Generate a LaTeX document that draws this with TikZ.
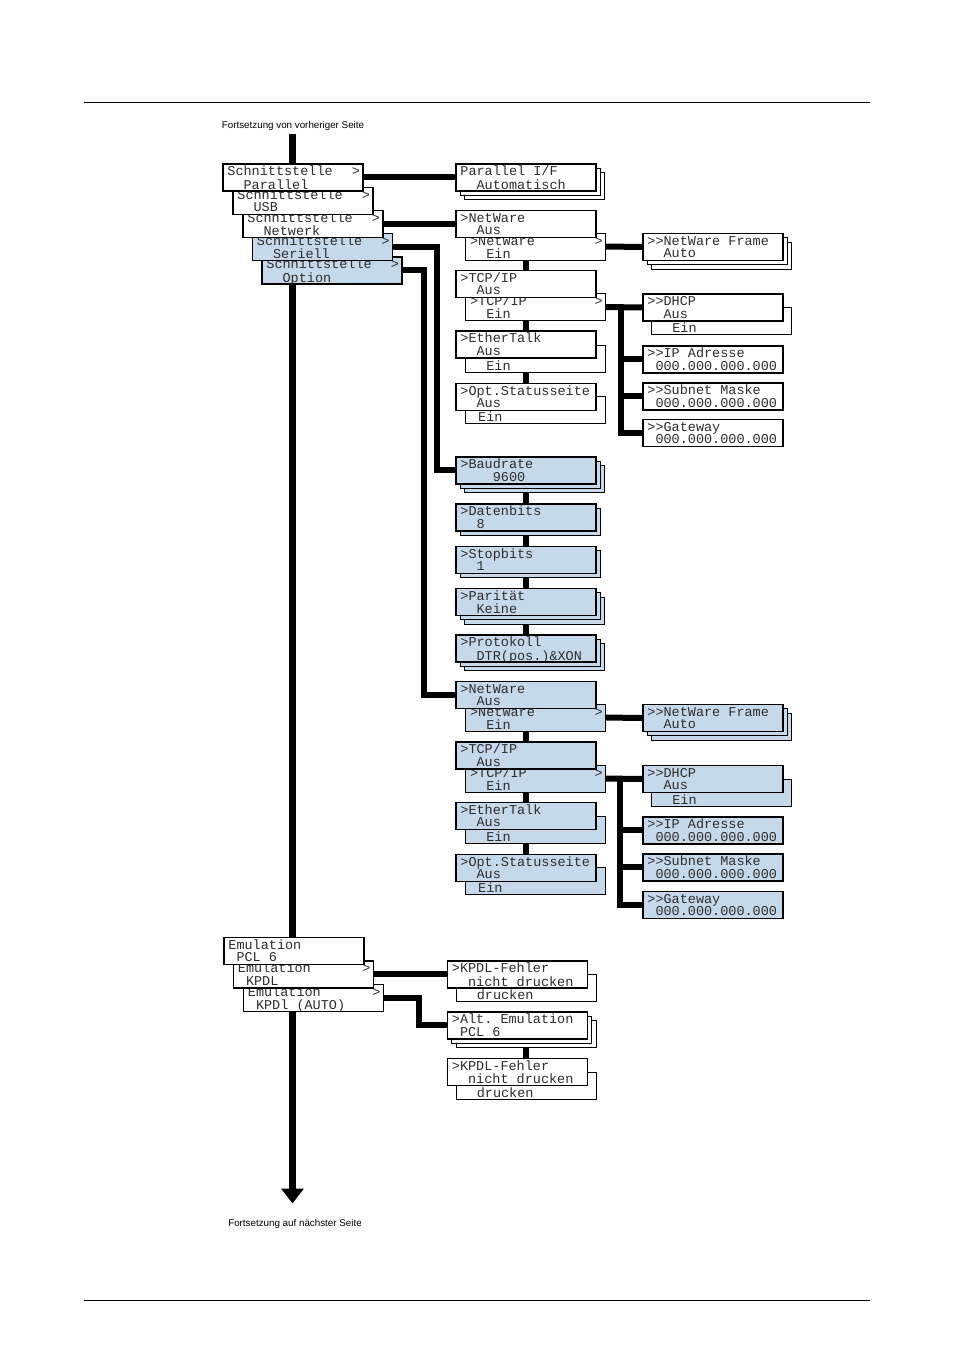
\documentclass[tikz,border=0pt]{standalone}
\usepackage{fontspec}
\newfontfamily\lcdfont{Liberation Mono}
\newfontfamily\capfont{Liberation Sans}
\definecolor{lcdblue}{RGB}{198, 217, 235}
\definecolor{ink}{RGB}{45, 45, 45}
\usetikzlibrary{arrows.meta, positioning, calc, shadows, backgrounds}

% two text lines of a display box, fixed baselines
\newcommand{\lcdtext}[2]{\vbox to 27pt{\offinterlineskip
  \hbox to 140pt{\hskip4.5pt\rule[-3.5pt]{0pt}{15.5pt}#1\hskip3pt plus 1fil}%
  \hbox to 140pt{\hskip4.5pt\rule[-3.5pt]{0pt}{11.7pt}#2\hskip3pt plus 1fil}\vss}}

\tikzset{
    lcd/.style={
        rectangle, draw=black, fill=#1, line width=1.8pt,
        minimum width=140pt, minimum height=27pt, inner sep=0pt,
        anchor=north west, text=ink,
        font=\lcdfont\fontsize{13.5}{12}\selectfont
    },
    lcd/.default=white,
    lcdsub/.style={lcd=#1, line width=1.2pt},
    lcdsub/.default=white,
    one copy/.style={general shadow={shadow xshift=4.5pt, shadow yshift=-4.5pt, fill=#1, draw=black, line width=1pt}},
    one copy/.default=white,
    two copies/.style={general shadow={shadow xshift=9pt, shadow yshift=-9pt, fill=#1, draw=black, line width=1pt}, one copy=#1},
    two copies/.default=white,
    link/.style={line width=6pt, draw=black},
    trunk/.style={line width=6.5pt, -{Triangle[length=15pt, width=22pt]}},
    cont/.style={font=\capfont\fontsize{9.8}{11}\selectfont, text=black, inner sep=1pt}
}

\begin{document}
\begin{tikzpicture}[x=1pt, y=-1pt]
    \useasboundingbox (0,0) rectangle (972,1360);

    % Page rules
    \draw[line width=0.8pt] (84,102) -- (870,102);
    \draw[line width=0.8pt] (84,1300) -- (870,1300);

    \node[cont, anchor=base] (prev) at (293,128.5) {Fortsetzung von vorheriger Seite};
    \node[cont, anchor=base] (next) at (295,1226.5) {Fortsetzung auf nächster Seite};
    \coordinate (trunkTop) at (292.5,134);
    \coordinate (trunkEnd) at (292.5,1203.5);

    % Interface menu
    \node[lcd=lcdblue] (sOpt) at (261,256) {\lcdtext{Schnittstelle\hfill>}{~~Option}};
    \node[lcd=lcdblue] (sSer) at (251.5,232.5) {\lcdtext{Schnittstelle\hfill>}{~~Seriell}};
    \node[lcd] (sNet) at (242,209.5) {\lcdtext{Schnittstelle\hfill>}{~~Netwerk}};
    \node[lcd] (sUsb) at (232,186.5) {\lcdtext{Schnittstelle\hfill>}{~~USB}};
    \node[lcd] (sPar) at (222,163) {\lcdtext{Schnittstelle\hfill>}{~~Parallel}};

    \node[lcd, two copies] (pIF) at (455,163) {\lcdtext{Parallel~I/F}{~~Automatisch}};

    % Network card
    \node[lcdsub] (nwEin) at (465,232.5) {\lcdtext{>NetWare\hfill>}{~~Ein}};
    \node[lcd] (nwAus) at (455,209.5) {\lcdtext{>NetWare}{~~Aus}};
    \node[lcd, two copies] (nwFrame) at (642,232.5) {\lcdtext{>>NetWare~Frame}{~~Auto}};
    \node[lcdsub] (tcpEin) at (465,293) {\lcdtext{>TCP/IP\hfill>}{~~Ein}};
    \node[lcd] (tcpAus) at (455,269.5) {\lcdtext{>TCP/IP}{~~Aus}};
    \node[lcdsub] (dhcpEin) at (651,307) {\lcdtext{}{~~Ein}};
    \node[lcd] (dhcp) at (642,293) {\lcdtext{>>DHCP}{~~Aus}};
    \node[lcd] (ip) at (642,345) {\lcdtext{>>IP~Adresse}{~000.000.000.000}};
    \node[lcd] (subnet) at (642,382) {\lcdtext{>>Subnet~Maske}{~000.000.000.000}};
    \node[lcd] (gateway) at (642,418.5) {\lcdtext{>>Gateway}{~000.000.000.000}};
    \node[lcdsub] (etEin) at (465,344.5) {\lcdtext{}{~~Ein}};
    \node[lcd] (etAus) at (455,330) {\lcdtext{>EtherTalk}{~~Aus}};
    \node[lcdsub] (optEin) at (465,396) {\lcdtext{}{~Ein}};
    \node[lcd] (optAus) at (455,382.5) {\lcdtext{>Opt.Statusseite}{~~Aus}};

    % Serial
    \node[lcd=lcdblue, two copies=lcdblue] (baud) at (455,456) {\lcdtext{>Baudrate}{~~~~9600}};
    \node[lcd=lcdblue, one copy=lcdblue] (daten) at (455,503) {\lcdtext{>Datenbits}{~~8}};
    \node[lcd=lcdblue, one copy=lcdblue] (stop) at (455,545.5) {\lcdtext{>Stopbits}{~~1}};
    \node[lcd=lcdblue, two copies=lcdblue] (parity) at (455,587.5) {\lcdtext{>Parität}{~~Keine}};
    \node[lcd=lcdblue, two copies=lcdblue] (proto) at (455,634) {\lcdtext{>Protokoll}{~~DTR(pos.)\&XON}};

    % Option slot
    \node[lcdsub=lcdblue] (nwEin2) at (465,703.5) {\lcdtext{>NetWare\hfill>}{~~Ein}};
    \node[lcd=lcdblue] (nwAus2) at (455,680.5) {\lcdtext{>NetWare}{~~Aus}};
    \node[lcd=lcdblue, two copies=lcdblue] (nwFrame2) at (642,703.5) {\lcdtext{>>NetWare~Frame}{~~Auto}};
    \node[lcdsub=lcdblue] (tcpEin2) at (465,764.5) {\lcdtext{>TCP/IP\hfill>}{~~Ein}};
    \node[lcd=lcdblue] (tcpAus2) at (455,741) {\lcdtext{>TCP/IP}{~~Aus}};
    \node[lcdsub=lcdblue] (dhcpEin2) at (651,778.5) {\lcdtext{}{~~Ein}};
    \node[lcd=lcdblue] (dhcp2) at (642,764.5) {\lcdtext{>>DHCP}{~~Aus}};
    \node[lcd=lcdblue] (ip2) at (642,816) {\lcdtext{>>IP~Adresse}{~000.000.000.000}};
    \node[lcd=lcdblue] (subnet2) at (642,853) {\lcdtext{>>Subnet~Maske}{~000.000.000.000}};
    \node[lcd=lcdblue] (gateway2) at (642,890.5) {\lcdtext{>>Gateway}{~000.000.000.000}};
    \node[lcdsub=lcdblue] (etEin2) at (465,816) {\lcdtext{}{~~Ein}};
    \node[lcd=lcdblue] (etAus2) at (455,801.5) {\lcdtext{>EtherTalk}{~~Aus}};
    \node[lcdsub=lcdblue] (optEin2) at (465,867) {\lcdtext{}{~Ein}};
    \node[lcd=lcdblue] (optAus2) at (455,853.5) {\lcdtext{>Opt.Statusseite}{~~Aus}};

    % Emulation menu
    \node[lcd] (eAuto) at (242.5,983.5) {\lcdtext{Emulation\hfill>}{~KPDl~(AUTO)}};
    \node[lcd] (eKpdl) at (232.5,960) {\lcdtext{Emulation\hfill>}{~KPDL}};
    \node[lcd] (ePcl) at (223,936.5) {\lcdtext{Emulation}{~PCL~6}};

    \node[lcdsub] (fehlD) at (455.5,974) {\lcdtext{}{~~drucken}};
    \node[lcd] (fehl) at (446.5,960) {\lcdtext{>KPDL-Fehler}{~~nicht~drucken}};
    \node[lcd, two copies] (alt) at (446.5,1011) {\lcdtext{>Alt.~Emulation}{~PCL~6}};
    \node[lcdsub] (fehlD2) at (455.5,1072) {\lcdtext{}{~~drucken}};
    \node[lcd] (fehl2) at (446.5,1057.5) {\lcdtext{>KPDL-Fehler}{~~nicht~drucken}};

    \begin{scope}[on background layer]
        % Main line
        \draw[trunk] (trunkTop) -- (trunkEnd);

        % Interface links
        \draw[link] (sPar.east) -- (pIF.west);
        \draw[link] (sNet.east) -- (nwAus.west);
        \draw[link] (sSer.east) -| ($(baud.west)+(-18,0)$) -- (baud.west);
        \draw[link] (sOpt.east) -| ($(nwAus2.west)+(-31,0)$) -- (nwAus2.west);

        % Network card links
        \draw[link] (nwEin.east) -- (nwFrame.west);
        \draw[link] (nwEin.south -| tcpAus.north) -- (tcpAus.north);
        \draw[link] (tcpEin.south -| etAus.north) -- (etAus.north);
        \draw[link] (etEin.south -| optAus.north) -- (optAus.north);
        \draw[link] (tcpEin.east) -- (dhcp.west);
        \coordinate (fork) at ($(tcpEin.east)+(15,0)$);
        \draw[link] (fork) |- (ip.west);
        \draw[link] (fork) |- (subnet.west);
        \draw[link] (fork) |- (gateway.west);

        % Serial links
        \draw[link] (baud.south) -- (daten.north);
        \draw[link] (daten.south) -- (stop.north);
        \draw[link] (stop.south) -- (parity.north);
        \draw[link] (parity.south) -- (proto.north);

        % Option slot links
        \draw[link] (nwEin2.east) -- (nwFrame2.west);
        \draw[link] (nwEin2.south -| tcpAus2.north) -- (tcpAus2.north);
        \draw[link] (tcpEin2.south -| etAus2.north) -- (etAus2.north);
        \draw[link] (etEin2.south -| optAus2.north) -- (optAus2.north);
        \draw[link] (tcpEin2.east) -- (dhcp2.west);
        \coordinate (fork2) at ($(tcpEin2.east)+(14,0)$);
        \draw[link] (fork2) |- (ip2.west);
        \draw[link] (fork2) |- (subnet2.west);
        \draw[link] (fork2) |- (gateway2.west);

        % Emulation links
        \draw[link] (eKpdl.east) -- (fehl.west);
        \draw[link] (eAuto.east) -| ($(alt.west)+(-27.5,0)$) -- (alt.west);
        \draw[link] (alt.south -| fehlD2.north) -- (fehl2.north -| fehlD2.north);
    \end{scope}

\end{tikzpicture}
\end{document}
